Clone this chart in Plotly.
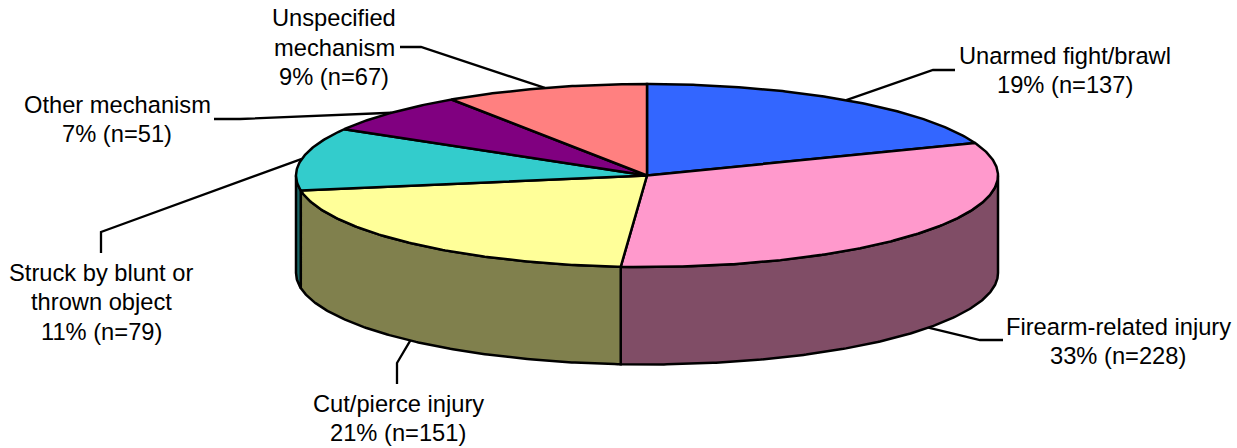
import numpy as np
import plotly.graph_objects as go

categories = ['Unarmed fight/brawl', 'Firearm-related injury', 'Cut/pierce injury',
              'Struck by blunt or thrown object', 'Other mechanism', 'Unspecified mechanism']
counts = [137, 228, 151, 79, 51, 67]
percents = [19, 33, 21, 11, 7, 9]
top_colors = ['#3366FF', '#FF99CC', '#FFFF99', '#33CCCC', '#800080', '#FF8080']
side_colors = ['#1A3380', '#804D66', '#80804D', '#1A6666', '#400040', '#804040']

# label text, one list of lines per slice
label_lines = [
    ['Unarmed fight/brawl'],
    ['Firearm-related injury'],
    ['Cut/pierce injury'],
    ['Struck by blunt or', 'thrown object'],
    ['Other mechanism'],
    ['Unspecified', 'mechanism'],
]
label_x = [1065, 1118, 398, 101, 117, 334]
label_y = [55.5, 326.5, 403.5, 272.5, 104.5, 18]
# leader elbows: bend point then end point
bend_x = [933, 980, 397, 101, 240, 421]
bend_y = [70, 340, 363, 232, 119, 47]
end_x = [955, 1003, 397, 101, 214, 400]
end_y = [70, 340, 384, 253, 119, 47]

CX, CY = 647, 175.5
RX, RY = 351, 91.5
DEPTH = 97.5
LINE_STEP = 29.7
FONT = dict(family='Liberation Sans, Arial, sans-serif', size=23.7, color='black')


def rim(a0, a1, dy=0):
    # angles in degrees, clockwise from 12 o'clock
    t = np.radians(np.linspace(a0, a1, max(int(abs(a1 - a0) * 2), 2)))
    return CX + RX * np.sin(t), CY - RY * np.cos(t) + dy


edges = np.cumsum([0] + counts) / sum(counts) * 360
fig = go.Figure()

# leaders go first so the pie covers their inner ends
for i in range(len(counts)):
    mid = (edges[i] + edges[i + 1]) / 2
    x0 = CX + RX * np.sin(np.radians(mid))
    y0 = CY - RY * np.cos(np.radians(mid))
    if 90 < mid < 270:
        y0 += DEPTH
    fig.add_trace(go.Scatter(x=[x0, bend_x[i], end_x[i]], y=[y0, bend_y[i], end_y[i]],
                             mode='lines', line=dict(color='black', width=2.3)))

# side walls, only the front half of the rim shows
for i in range(len(counts)):
    a0, a1 = max(edges[i], 90), min(edges[i + 1], 270)
    if a1 <= a0:
        continue
    xt, yt = rim(a0, a1)
    xb, yb = rim(a1, a0, DEPTH)
    fig.add_trace(go.Scatter(x=np.r_[xt, xb, xt[0]], y=np.r_[yt, yb, yt[0]],
                             mode='lines', fill='toself', fillcolor=side_colors[i],
                             line=dict(color='black', width=2.5)))

# top face
for i in range(len(counts)):
    xt, yt = rim(edges[i], edges[i + 1])
    fig.add_trace(go.Scatter(x=np.r_[CX, xt, CX], y=np.r_[CY, yt, CY],
                             mode='lines', fill='toself', fillcolor=top_colors[i],
                             line=dict(color='black', width=2.5)))

for i in range(len(counts)):
    lines = label_lines[i] + ['%d%% (n=%d)' % (percents[i], counts[i])]
    for j, txt in enumerate(lines):
        fig.add_annotation(x=label_x[i], y=label_y[i] + j * LINE_STEP, text=txt,
                           showarrow=False, xanchor='center', yanchor='middle', font=FONT)

fig.update_layout(
    width=1237, height=448, showlegend=False, hovermode=False,
    margin=dict(l=0, r=0, t=0, b=0),
    paper_bgcolor='white', plot_bgcolor='white',
    xaxis=dict(range=[0, 1237], visible=False, fixedrange=True),
    yaxis=dict(range=[448, 0], visible=False, fixedrange=True),
)

# page default margin would push the chart 8px off
fig.write_html("out.html", config=dict(displayModeBar=False),
               post_script="document.body.style.margin='0';")
